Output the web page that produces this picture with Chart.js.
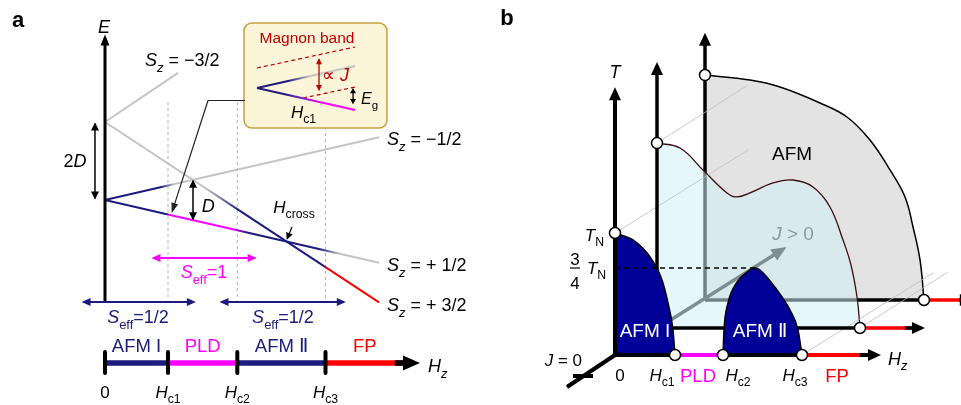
<!DOCTYPE html>
<html>
<head>
<meta charset="utf-8">
<script src="https://cdn.jsdelivr.net/npm/chart.js@4.4.0/dist/chart.umd.min.js"></script>
<style>
html,body{margin:0;padding:0;background:#fff;overflow:hidden;}
#frame{width:961px;height:405px;position:relative;overflow:hidden;}
#wrap{width:981px;height:425px;position:absolute;left:-10px;top:-10px;}
</style>
</head>
<body>
<div id="frame"><div id="wrap"><canvas id="c"></canvas></div></div>
<script>
const W = 961, H = 405, PAD = 10;
const NAVY = '#1b1b7d', MAG = '#ff00ff', RED = '#ff0000', GRAY = '#c4c4c4', DKRED = '#c00000', DOME = '#000099';
const FONT = '"Liberation Sans", Arial, Helvetica, sans-serif';

// ---- panel a : levels vs field, H in units of Hc1, E in units of D
const fieldTicks = [0, 1, 2.1, 3.5];
const fieldTickNames = [[['0']], [['H','i'],['c1','s']], [['H','i'],['c2','s']], [['H','i'],['c3','s']]];
const levelM32 = [[0, 2], [1.16, 3.26]];
const levelP32 = [[0, 2], [2.1, -0.232], [3.5, -1.72], [4.35, -2.624]];
const levelM12 = [[0, 0], [1, 0.37], [4.35, 1.61]];
const levelP12 = [[0, 0], [1, -0.37], [2.1, -0.777], [3.5, -1.295], [4.35, -1.61]];
const phaseEdgesA = [0, 1, 2.1, 3.5, 4.75];
const phaseNames = ['AFM I', 'PLD', 'AFM Ⅱ', 'FP'];
const phaseColors = [NAVY, MAG, NAVY, RED];
// inset (magnon band)
const insetUpper = [[2.413, 2.872], [3.968, 3.436]];
const insetLower = [[2.413, 2.872], [3.968, 2.308]];
const bandTop = [[2.413, 3.385], [3.968, 3.923]];
const bandBottom = [[3.143, 2.615], [3.968, 2.897]];

// ---- panel b : phase diagram, H in units (Hc3 ~ 3), T in units of TN
const TN34 = 0.713;
const frontCrit = [0.968, 1.742, 3.016];     // Hc1, Hc2, Hc3 at J = 0
const domeAFM1 = [[0,1.0],[0.29,0.943],[0.565,0.803],[0.758,0.615],[0.855,0.426],[0.935,0.205],[0.968,0]];
const domeAFM2 = [[1.742,0],[1.758,0.205],[1.823,0.426],[1.968,0.598],[2.129,0.68],[2.258,0.713],[2.339,0.697],[2.613,0.533],[2.823,0.369],[2.952,0.205],[3.016,0]];
const midBoundary = [[0,1.516],[0.371,1.475],[0.742,1.295],[1.129,1.107],[1.29,1.074],[1.5,1.107],[1.871,1.189],[2.194,1.213],[2.516,1.156],[2.79,0.992],[3.0,0.721],[3.129,0.516],[3.226,0.254],[3.274,0]];
const backBoundary = [[0,1.844],[0.726,1.803],[1.21,1.746],[1.855,1.615],[2.29,1.5],[2.661,1.311],[2.984,1.066],[3.226,0.844],[3.355,0.598],[3.468,0.328],[3.532,0]];

function planeScales(id, ox, oy, ux, uy) {
  const s = {};
  s['x' + id] = {type:'linear', display:false, min:-ox/ux, max:(W-ox)/ux};
  s['y' + id] = {type:'linear', display:false, min:-(H-oy)/uy, max:oy/uy};
  return s;
}
const scales = Object.assign({},
  planeScales('a', 105, 200, 63, 39),
  planeScales('b0', 615, 355, 62, 122),
  planeScales('b1', 657, 328, 62, 122),
  planeScales('b2', 705, 300, 62, 122));

function grad(axis, stops) {
  return (c) => {
    const ch = c.chart;
    if (!ch.chartArea || !ch.scales[axis]) return stops[0][1];
    const sc = ch.scales[axis];
    const x0 = sc.getPixelForValue(stops[0][0]), x1 = sc.getPixelForValue(stops[stops.length-1][0]);
    const g = ch.ctx.createLinearGradient(x0, 0, x1, 0);
    stops.forEach(([h, col]) => g.addColorStop(Math.min(1, Math.max(0, (sc.getPixelForValue(h)-x0)/(x1-x0))), col));
    return g;
  };
}

function seg(xa, ya, pts, o) {
  return Object.assign({xAxisID:xa, yAxisID:ya, data:pts.map(p => ({x:p[0], y:p[1]})),
    borderColor:'#000', borderWidth:2, pointRadius:0, pointHoverRadius:0, fill:false, tension:0,
    borderJoinStyle:'round'}, o);
}
const A = (p, o) => seg('xa', 'ya', p, o);
const F = (p, o) => seg('xb0', 'yb0', p, o);
const M = (p, o) => seg('xb1', 'yb1', p, o);
const B = (p, o) => seg('xb2', 'yb2', p, o);

const ds = [];
// panel a
fieldTicks.slice(1).forEach((h, i) => ds.push(A([[h, i === 2 ? 1.872 : 2.513], [h, -2.564]], {borderColor:'#b4b4b4', borderWidth:1, borderDash:[3,3]})));
ds.push(A(levelM32, {borderColor:GRAY}));
ds.push(A(levelM12, {borderColor:grad('xa', [[0,NAVY],[0.88,NAVY],[1.1,GRAY],[4.35,GRAY]])}));
ds.push(A(levelP32, {borderColor:grad('xa', [[0,GRAY],[1.6,GRAY],[2.15,NAVY],[3.45,NAVY],[3.55,RED],[4.35,RED]])}));
ds.push(A(levelP12, {borderColor:grad('xa', [[0,NAVY],[0.98,NAVY],[1.02,MAG],[1.98,MAG],[2.3,NAVY],[3.4,NAVY],[3.72,GRAY],[4.35,GRAY]])}));
ds.push(A([[0,-2.6],[0,4.15]], {borderWidth:3, head:{end:[11,4.5]}}));
ds.push(A([[-0.159,1.95],[-0.159,0.05]], {borderWidth:1.5, head:{start:[8,4],end:[8,4]}}));
ds.push(A([[1.397,0.48],[1.397,-0.48]], {borderWidth:1.5, head:{start:[8,4],end:[8,4]}}));
ds.push(A([[2.222,2.551],[1.635,2.551],[1.067,-0.29]], {borderColor:'#222', borderWidth:1.2, head:{end:[10,3.5]}}));
ds.push(A([[2.968,-0.692],[2.892,-0.99]], {borderWidth:1.2, head:{end:[7,3.5]}}));
ds.push(A([[-0.34,-2.615],[1.41,-2.615]], {borderColor:NAVY, borderWidth:1.8, head:{start:[9,4],end:[9,4]}}));
ds.push(A([[1.85,-2.615],[3.79,-2.615]], {borderColor:NAVY, borderWidth:1.8, head:{start:[9,4],end:[9,4]}}));
ds.push(A([[0.77,-1.487],[2.375,-1.487]], {borderColor:MAG, borderWidth:1.8, head:{start:[9,4],end:[9,4]}}));
for (let i = 0; i < 4; i++) ds.push(A([[phaseEdgesA[i],-4.18],[phaseEdgesA[i+1],-4.18]], {borderColor:phaseColors[i], borderWidth:5.5}));
ds.push(A([[4.6,-4.18],[4.9,-4.18]], {borderWidth:5.5, head:{end:[17,7.5]}}));
fieldTicks.forEach(h => ds.push(A([[h,-3.897],[h,-4.436]], {borderWidth:4})));
// inset
ds.push(A(bandTop, {borderColor:DKRED, borderWidth:1.2, borderDash:[4,3]}));
ds.push(A(bandBottom, {borderColor:DKRED, borderWidth:1.2, borderDash:[4,3]}));
ds.push(A(insetUpper, {borderColor:grad('xa', [[2.413,NAVY],[2.9,NAVY],[3.25,GRAY],[3.968,GRAY]])}));
ds.push(A(insetLower, {borderColor:grad('xa', [[2.413,NAVY],[2.85,NAVY],[3.15,'#8a20d0'],[3.5,MAG],[3.968,MAG]])}));
ds.push(A([[3.397,3.6],[3.397,2.83]], {borderColor:DKRED, borderWidth:1.3, head:{start:[6,3],end:[6,3],color:DKRED}}));
ds.push(A([[3.937,2.84],[3.937,2.49]], {borderWidth:1.3, head:{start:[5,3],end:[5,3]}}));

// panel b, back plane
ds.push(B(backBoundary, {borderWidth:1.5, fill:{value:0}, backgroundColor:'#e3e3e3', tension:0.4}));
ds.push(B([[0,0],[0,2.16]], {borderWidth:3.5, head:{end:[13,6]}}));
ds.push(B([[0,0],[3.532,0]], {borderWidth:3.5}));
ds.push(B([[3.532,0],[4.2,0]], {borderColor:RED, borderWidth:3.5}));
ds.push(B([[4.1,0],[4.27,0]], {borderWidth:3.5, head:{end:[14,6]}}));
// middle plane
ds.push(M(midBoundary, {borderColor:'#3b0a0a', borderWidth:1.3, fill:{value:0}, backgroundColor:'rgba(208,240,247,0.54)', tension:0.4}));
// perspective guides
[[[0,1],[2.145,1.68]], [[0.677,1.738],[2.145,2.213]], [[3.016,0],[5.129,0.672]], [[3.952,0.221],[5.371,0.68]]]
  .forEach(p => ds.push(F(p, {borderColor:'#bcbcbc', borderWidth:0.8})));
ds.push(M([[0,0],[0,2.15]], {borderWidth:3.5, head:{end:[13,6]}}));
ds.push(M([[0,0],[3.274,0]], {borderWidth:3.5}));
ds.push(M([[3.274,0],[4.15,0]], {borderColor:RED, borderWidth:3.5}));
ds.push(M([[4.0,0],[4.26,0]], {borderWidth:3.5, head:{end:[13,6]}}));
ds.push(F([[0,0],[2.71,0.867]], {borderColor:'#7d8d92', borderWidth:3.5, head:{end:[15,6.5]}}));
// front plane
ds.push(F(domeAFM1, {borderWidth:1.5, fill:{value:0}, backgroundColor:DOME, cubicInterpolationMode:'monotone'}));
ds.push(F(domeAFM2, {borderWidth:1.5, fill:{value:0}, backgroundColor:DOME, cubicInterpolationMode:'monotone'}));
ds.push(F([[0,TN34],[2.258,TN34]], {borderWidth:1.5, borderDash:[5,4]}));
ds.push(F([[0,0],[0,2.16]], {borderWidth:4, head:{end:[13,6]}}));
const frontEdges = [0, frontCrit[0], frontCrit[1], frontCrit[2], 4.1];
const frontColors = ['#000', MAG, '#000', RED];
for (let i = 0; i < 4; i++) ds.push(F([[frontEdges[i],0],[frontEdges[i+1],0]], {borderColor:frontColors[i], borderWidth:4}));
ds.push(F([[3.95,0],[4.22,0]], {borderWidth:4, head:{end:[13,6]}}));
ds.push(F([[0,0],[-0.774,-0.262]], {borderWidth:4}));
ds.push(F([[-0.677,-0.172],[-0.355,-0.172]], {borderWidth:4}));
const circ = {showLine:false, pointRadius:5.5, pointBackgroundColor:'#fff', pointBorderColor:'#000', pointBorderWidth:1.5};
ds.push(F([[0,1],[frontCrit[0],0],[frontCrit[1],0],[frontCrit[2],0]], circ));
ds.push(M([[0,1.516],[3.274,0]], circ));
ds.push(B([[0,1.844],[3.532,0]], circ));
ds.forEach((d, i) => d.order = -i);

// ---- annotation text
const N = '#000';
const textA = [
  [-1.381, 4.641, [['a','b']], 22, N, 'center'],
  [-0.016, 4.436, [['E','i']], 18, N, 'center'],
  [0.635, 3.59, [['S','i'],['z','is'],[' = −3/2']], 18, N, 'left'],
  [4.476, 1.564, [['S','i'],['z','is'],[' = −1/2']], 18, N, 'left'],
  [4.476, -1.667, [['S','i'],['z','is'],[' = + 1/2']], 18, N, 'left'],
  [4.476, -2.692, [['S','i'],['z','is'],[' = + 3/2']], 18, N, 'left'],
  [-0.476, 1.0, [['2'],['D','i']], 18, N, 'center'],
  [1.64, -0.154, [['D','i']], 18, N, 'center'],
  [3.0, -0.179, [['H','i'],['cross','s']], 17, N, 'center'],
  [1.571, -1.846, [['S','i'],['eff','s'],['=1']], 18, MAG, 'center'],
  [0.524, -3.0, [['S','i'],['eff','s'],['=1/2']], 18, NAVY, 'center'],
  [2.825, -3.0, [['S','i'],['eff','s'],['=1/2']], 18, NAVY, 'center'],
  [5.127, -4.256, [['H','i'],['z','is']], 18, N, 'left'],
  [3.206, 4.179, [['Magnon band']], 15.5, DKRED, 'center'],
  [3.444, 3.205, [['∝ '],['J','i']], 18, DKRED, 'left'],
  [4.063, 2.615, [['E','i'],['g','s']], 16, N, 'left'],
  [2.952, 2.256, [['H','i'],['c1','s']], 17, N, 'left']
];
phaseNames.forEach((n, i) => textA.push([(phaseEdgesA[i]+phaseEdgesA[i+1])/2, -3.718, [[n]], 18.5, phaseColors[i], 'center']));
fieldTicks.forEach((h, i) => textA.push([h, -4.92, fieldTickNames[i], 17, N, 'center']));

const textB = [
  [-1.742, 2.77, [['b','b']], 22, N, 'center'],
  [0, 2.32, [['T','i']], 18, N, 'center'],
  [-0.177, 0.984, [['T','i'],['N','s']], 17, N, 'right'],
  [-0.645, 0.785, [['3']], 17, N, 'center'],
  [-0.645, 0.595, [['4']], 17, N, 'center'],
  [-0.452, 0.713, [['T','i'],['N','s']], 17, N, 'left'],
  [-0.532, -0.041, [['J','i'],[' = 0']], 17, N, 'right'],
  [0.081, -0.164, [['0']], 17, N, 'center'],
  [0.758, -0.164, [['H','i'],['c1','s']], 17, N, 'center'],
  [1.339, -0.164, [['PLD']], 18.5, MAG, 'center'],
  [1.984, -0.164, [['H','i'],['c2','s']], 17, N, 'center'],
  [2.903, -0.164, [['H','i'],['c3','s']], 17, N, 'center'],
  [3.581, -0.164, [['FP']], 18.5, RED, 'center'],
  [4.403, -0.025, [['H','i'],['z','is']], 18, N, 'left'],
  [0.484, 0.205, [['AFM I']], 19, '#fff', 'center'],
  [2.339, 0.205, [['AFM Ⅱ']], 19, '#fff', 'center'],
  [2.871, 1.0, [['J','i'],[' > 0']], 19, '#8a9aa0', 'center'],
  [2.855, 1.656, [['AFM']], 19, N, 'center']
];

function drawRich(ctx, x, y, parts, size, color, align) {
  const items = parts.map(([t, f = '']) => {
    const sub = f.includes('s');
    const sz = sub ? size * 0.72 : size;
    const font = (f.includes('i') ? 'italic ' : '') + (f.includes('b') ? 'bold ' : '') + sz + 'px ' + FONT;
    ctx.font = font;
    return {t, font, w: ctx.measureText(t).width, dy: sub ? size * 0.3 : 0};
  });
  const total = items.reduce((a, b) => a + b.w, 0);
  let cx = align === 'left' ? x : align === 'right' ? x - total : x - total / 2;
  const base = y + size * 0.36;
  ctx.fillStyle = color; ctx.textAlign = 'left'; ctx.textBaseline = 'alphabetic';
  items.forEach(it => { ctx.font = it.font; ctx.fillText(it.t, cx, base + it.dy); cx += it.w; });
}

function head(ctx, tip, from, len, hw, bw, color) {
  const dx = tip.x - from.x, dy = tip.y - from.y, d = Math.hypot(dx, dy) || 1;
  const ux = dx / d, uy = dy / d, ext = (bw / 2) * len / hw;
  const tx = tip.x + ux * ext, ty = tip.y + uy * ext;
  const bx = tx - ux * len, by = ty - uy * len;
  ctx.beginPath();
  ctx.moveTo(tx, ty);
  ctx.lineTo(bx - uy * hw, by + ux * hw);
  ctx.lineTo(bx + uy * hw, by - ux * hw);
  ctx.closePath();
  ctx.fillStyle = color; ctx.fill();
}

const annot = {
  id: 'annot',
  beforeDatasetsDraw(chart) {
    const ctx = chart.ctx, xs = chart.scales.xa, ys = chart.scales.ya;
    const x0 = xs.getPixelForValue(2.206), x1 = xs.getPixelForValue(4.476);
    const y0 = ys.getPixelForValue(4.538), y1 = ys.getPixelForValue(1.846), r = 8;
    ctx.save();
    ctx.beginPath();
    ctx.moveTo(x0 + r, y0);
    ctx.arcTo(x1, y0, x1, y1, r); ctx.arcTo(x1, y1, x0, y1, r);
    ctx.arcTo(x0, y1, x0, y0, r); ctx.arcTo(x0, y0, x1, y0, r);
    ctx.closePath();
    ctx.fillStyle = '#fdf5d9'; ctx.fill();
    ctx.lineWidth = 1.5; ctx.strokeStyle = '#c8a040'; ctx.stroke();
    ctx.restore();
  },
  afterDatasetsDraw(chart) {
    const ctx = chart.ctx;
    ctx.save();
    chart.data.datasets.forEach((d, i) => {
      if (!d.head) return;
      const pts = chart.getDatasetMeta(i).data;
      const col = d.head.color || (typeof d.borderColor === 'string' ? d.borderColor : '#000');
      if (d.head.end) head(ctx, pts[pts.length-1], pts[pts.length-2], d.head.end[0], d.head.end[1], d.borderWidth, col);
      if (d.head.start) head(ctx, pts[0], pts[1], d.head.start[0], d.head.start[1], d.borderWidth, col);
    });
    const put = (list, xa, ya) => list.forEach(([x, y, parts, size, color, align]) =>
      drawRich(ctx, chart.scales[xa].getPixelForValue(x), chart.scales[ya].getPixelForValue(y), parts, size, color, align));
    put(textA, 'xa', 'ya');
    put(textB, 'xb0', 'yb0');
    // fraction bar of 3/4
    const fx = chart.scales.xb0, fy = chart.scales.yb0;
    ctx.beginPath();
    ctx.moveTo(fx.getPixelForValue(-0.726), fy.getPixelForValue(TN34));
    ctx.lineTo(fx.getPixelForValue(-0.565), fy.getPixelForValue(TN34));
    ctx.lineWidth = 1.2; ctx.strokeStyle = '#000'; ctx.stroke();
    ctx.restore();
  }
};

new Chart(document.getElementById('c'), {
  type: 'line',
  data: {datasets: ds},
  options: {
    responsive: true, maintainAspectRatio: false, animation: false, devicePixelRatio: 1, events: [],
    layout: {padding: PAD},
    scales: scales,
    plugins: {legend: {display: false}, tooltip: {enabled: false}, filler: {propagate: false}}
  },
  plugins: [annot]
});
</script>
</body>
</html>
